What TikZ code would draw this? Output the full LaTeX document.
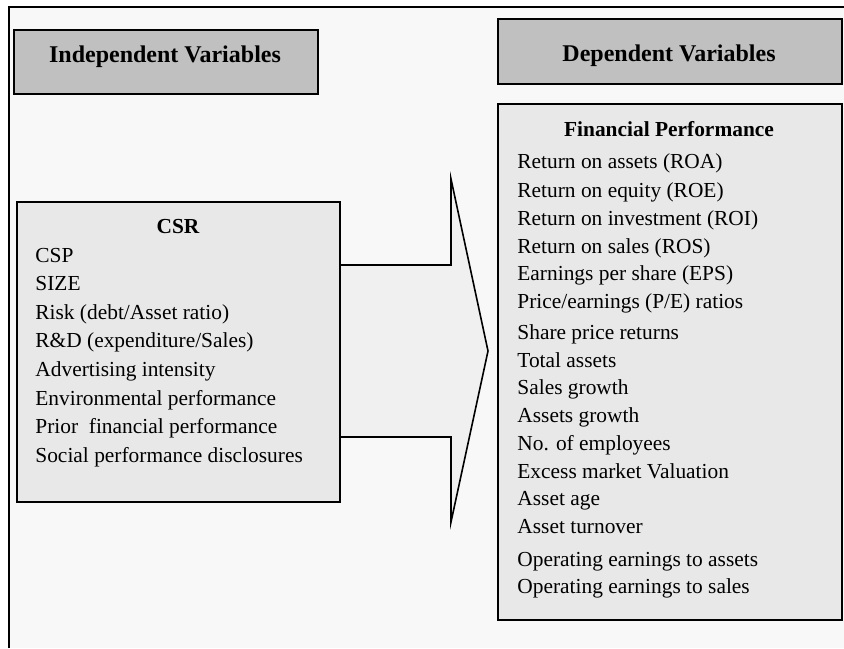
\documentclass[tikz,border=0pt]{standalone}
\usepackage{fontspec}
\setmainfont{Liberation Serif}
\definecolor{bgc}{HTML}{F8F8F8}
\definecolor{headc}{HTML}{C0C0C0}
\definecolor{listc}{HTML}{E8E8E8}
\definecolor{arrowc}{HTML}{F0F0F0}
\tikzset{
  headbox/.style={draw=black, line width=1pt, fill=headc, inner sep=0pt, anchor=north west},
  listbox/.style={draw=black, line width=1pt, fill=listc, inner sep=0pt, anchor=north west},
  headtxt/.style={font=\fontsize{12}{14}\selectfont\bfseries, anchor=base, inner sep=0pt},
  titletxt/.style={font=\fontsize{10.7}{13}\selectfont\bfseries, anchor=base, inner sep=0pt},
  itemtxt/.style={font=\fontsize{10.7}{13}\selectfont, anchor=base west, inner sep=0pt},
  bigarrow/.style={draw=black, line width=0.8pt, fill=arrowc, line join=miter}
}
\begin{document}
\begin{tikzpicture}[x=0.5pt,y=-0.5pt]
\useasboundingbox (0,0) rectangle (844,648);
\fill[white] (0,0) rectangle (844,648);
\fill[bgc] (9,7) rectangle (844,648);
\draw[line width=1pt] (9,648) -- (9,7) -- (844,7);

% header boxes
\node[headbox, minimum width=152pt, minimum height=32pt] (indep) at (13,29) {};
\node[headtxt] (indeptxt) at (165,62) {Independent Variables};
\node[headbox, minimum width=172pt, minimum height=32.5pt] (dep) at (497,18) {};
\node[headtxt] (deptxt) at (669,61) {Dependent Variables};

% arrow
\coordinate (a1) at (339,265);
\coordinate (a2) at (451,265);
\coordinate (a3) at (451,179);
\coordinate (a4) at (488,351);
\coordinate (a5) at (451,522);
\coordinate (a6) at (451,437);
\coordinate (a7) at (339,437);
\draw[bigarrow] (a1) -- (a2) -- (a3) -- (a4) -- (a5) -- (a6) -- (a7);

% CSR box
\node[listbox, minimum width=161.5pt, minimum height=150pt] (csr) at (16,201) {};
\node[titletxt] (csrtitle) at (178,233) {CSR};
\node[itemtxt] (c1) at (35,262) {CSP};
\node[itemtxt] (c2) at (35,290) {SIZE};
\node[itemtxt] (c3) at (35,319) {Risk (debt/Asset ratio)};
\node[itemtxt] (c4) at (35,347) {R\&D (expenditure/Sales)};
\node[itemtxt] (c5) at (35,376) {Advertising intensity};
\node[itemtxt] (c6) at (35,405) {Environmental performance};
\node[itemtxt] (c7) at (35,433) {Prior\ \ financial performance};
\node[itemtxt] (c8) at (35,462) {Social performance disclosures};

% Financial performance box
\node[listbox, minimum width=172pt, minimum height=258pt] (fin) at (497,103) {};
\node[titletxt] (fintitle) at (669,136) {Financial Performance};
\node[itemtxt] (f1) at (517,168) {Return on assets (ROA)};
\node[itemtxt] (f2) at (517,197) {Return on equity (ROE)};
\node[itemtxt] (f3) at (517,225) {Return on investment (ROI)};
\node[itemtxt] (f4) at (517,253) {Return on sales (ROS)};
\node[itemtxt] (f5) at (517,280) {Earnings per share (EPS)};
\node[itemtxt] (f6) at (517,308) {Price/earnings (P/E) ratios};
\node[itemtxt] (f7) at (517,339) {Share price returns};
\node[itemtxt] (f8) at (517,367) {Total assets};
\node[itemtxt] (f9) at (517,394) {Sales growth};
\node[itemtxt] (f10) at (517,422) {Assets growth};
\node[itemtxt] (f11) at (517,450) {No. of employees};
\node[itemtxt] (f12) at (517,478) {Excess market Valuation};
\node[itemtxt] (f13) at (517,505) {Asset age};
\node[itemtxt] (f14) at (517,533) {Asset turnover};
\node[itemtxt] (f15) at (517,566) {Operating earnings to assets};
\node[itemtxt] (f16) at (517,593) {Operating earnings to sales};
\end{tikzpicture}
\end{document}
